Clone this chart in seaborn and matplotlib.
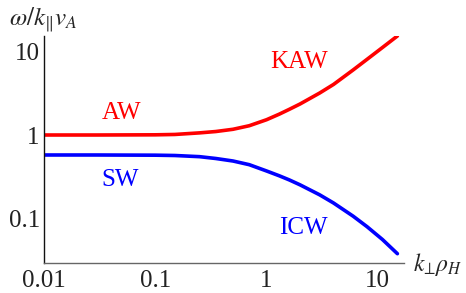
import matplotlib
matplotlib.use("Agg")
import matplotlib.pyplot as plt
import seaborn as sns
import pandas as pd
from matplotlib.ticker import FixedLocator, FixedFormatter, NullLocator

# Data
k_perp = [0.01, 0.03, 0.1, 0.15, 0.25, 0.35, 0.5, 0.7, 1.0, 1.3, 1.6, 2.0, 3.0, 4.0, 6.0, 8.0, 11.0, 15.0]
aw_kaw = [1.0, 1.0, 1.005, 1.015, 1.06, 1.10, 1.17, 1.29, 1.52, 1.77, 2.02, 2.34, 3.16, 4.0, 5.95, 7.96, 11.0, 15.1]
sw_icw = [0.578, 0.578, 0.575, 0.570, 0.552, 0.525, 0.49, 0.443, 0.373, 0.327, 0.292, 0.255, 0.194, 0.155, 0.108, 0.081, 0.057, 0.0386]

x_ticks = [0.01, 0.1, 1, 10]
x_tick_labels = ["0.01", "0.1", "1", "10"]
y_ticks = [0.1, 1, 10]
y_tick_labels = ["0.1", "1", "10"]

df = pd.concat([
    pd.DataFrame({"k": k_perp, "w": aw_kaw, "branch": "AW/KAW"}),
    pd.DataFrame({"k": k_perp, "w": sw_icw, "branch": "SW/ICW"}),
])

sns.set_style("white")
plt.rcParams["font.family"] = ["Liberation Serif", "DejaVu Serif"]
plt.rcParams["mathtext.fontset"] = "stix"

fig = plt.figure(figsize=(4.66, 2.93), dpi=100)
ax = fig.add_axes([44/466, 1-263/293, (404-44)/466, (263-36)/293])

sns.lineplot(data=df, x="k", y="w", hue="branch",
             palette={"AW/KAW": "#ff0000", "SW/ICW": "#0000ff"},
             linewidth=2.6, legend=False, ax=ax, estimator=None, sort=True)

ax.set_xscale("log")
ax.set_yscale("log")
ax.set_xlim(0.01, 17.2)
ax.set_ylim(0.0299, 15.1)

ax.xaxis.set_major_locator(FixedLocator(x_ticks))
ax.xaxis.set_major_formatter(FixedFormatter(x_tick_labels))
ax.yaxis.set_major_locator(FixedLocator(y_ticks))
ax.yaxis.set_major_formatter(FixedFormatter(y_tick_labels))
ax.xaxis.set_minor_locator(NullLocator())
ax.yaxis.set_minor_locator(NullLocator())

ax.tick_params(axis="both", which="major", direction="in", length=4, width=0.8,
               labelsize=18, colors="#222222")
ax.tick_params(axis="x", pad=5)
ax.tick_params(axis="y", pad=3)

for s in ["top", "right"]:
    ax.spines[s].set_visible(False)
ax.spines["left"].set_color("#111111")
ax.spines["bottom"].set_color("#666666")
ax.spines["left"].set_linewidth(1.0)
ax.spines["bottom"].set_linewidth(1.0)

ax.set_xlabel("")
ax.set_ylabel("")

ax.text(0.05, 1.83, "AW", color="#ff0000", fontsize=18, ha="center", va="center")
ax.text(1.98, 7.4, "KAW", color="#ff0000", fontsize=18, ha="center", va="center")
ax.text(0.048, 0.29, "SW", color="#0000ff", fontsize=18, ha="center", va="center")
ax.text(2.15, 0.078, "ICW", color="#0000ff", fontsize=18, ha="center", va="center")

fig.text(9/466, 1-25/293, r"$\omega/k_{\Vert}v_A$", fontsize=18, ha="left", va="baseline")
fig.text(413/466, 1-271/293, r"$k_{\!\bot}\!\rho_H$", fontsize=17, ha="left", va="baseline")

fig.savefig("out.png", dpi=100)
